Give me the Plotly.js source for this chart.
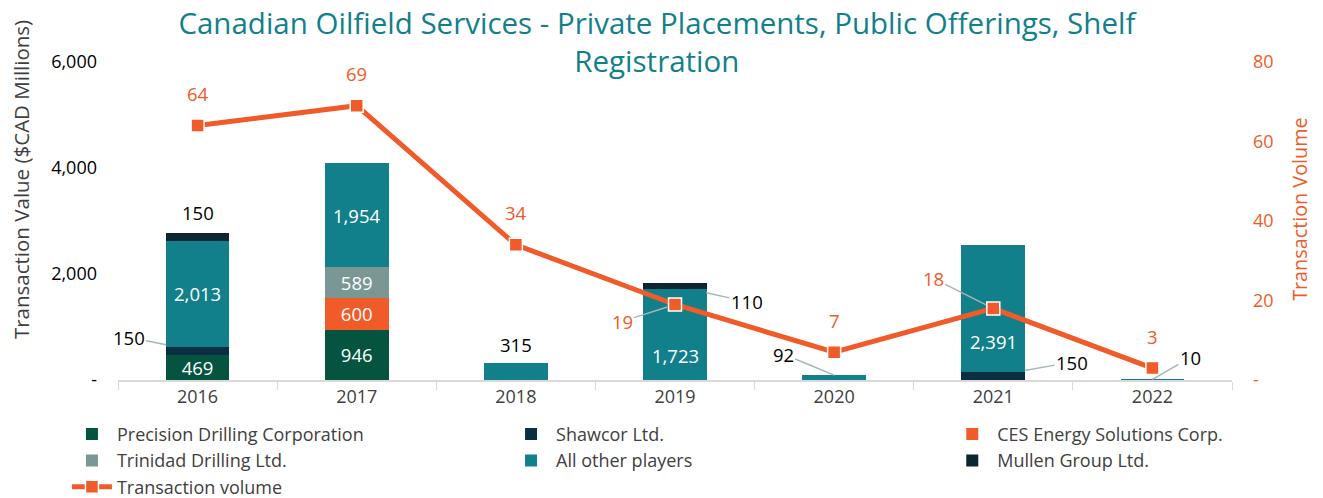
<!DOCTYPE html>
<html>
<head>
<meta charset="utf-8">
<script src="https://cdn.plot.ly/plotly-3.0.1.min.js"></script>
<style>
  html, body { margin: 0; padding: 0; background: #fff; }
  #chart { width: 1323px; height: 498px; }
</style>
</head>
<body>
<div id="chart"></div>
<script>
const years = ["2016", "2017", "2018", "2019", "2020", "2021", "2022"];
const precision = [469, 946, 0, 0, 0, 0, 0];
const shawcor = [150, 0, 0, 0, 0, 150, 0];
const ces = [0, 600, 0, 0, 0, 0, 0];
const trinidad = [0, 589, 0, 0, 0, 0, 0];
const allOther = [2013, 1954, 315, 1723, 92, 2391, 10];
const mullen = [150, 0, 0, 110, 0, 0, 0];
const volume = [64, 69, 34, 19, 7, 18, 3];

const FONT = "Open Sans, Noto Sans, sans-serif";
const ORANGE = "#F15A29";
const fmt = v => v.toLocaleString("en-US");

// labels that sit inside the bar segments (white)
function insideText(arr, skip) {
    return arr.map((v, i) => (v >= 400 && !(skip || []).includes(i)) ? fmt(v) : "");
}

function barTrace(name, values, color, legend, skip) {
    return {
        type: "bar",
        name,
        legend,
        x: years,
        y: values.map(v => v || null),
        marker: { color },
        text: insideText(values, skip),
        textposition: "inside",
        insidetextanchor: "middle",
        textangle: 0,
        constraintext: "none",
        textfont: { color: "#fff", size: 18.5, family: FONT },
        hoverinfo: "skip"
    };
}

function totals(i) {
    return precision[i] + shawcor[i] + ces[i] + trinidad[i] + allOther[i] + mullen[i];
}

function draw() {
    const traces = [
        barTrace("Precision Drilling Corporation", precision, "#04543F", "legend"),
        barTrace("Shawcor Ltd.", shawcor, "#0B2F42", "legend2"),
        barTrace("CES Energy Solutions Corp.", ces, ORANGE, "legend3"),
        barTrace("Trinidad Drilling Ltd.", trinidad, "#7A9695", "legend"),
        barTrace("All other players", allOther, "#12808A", "legend2", [3, 5]),
        barTrace("Mullen Group Ltd.", mullen, "#0E2430", "legend3"),
        {
            type: "scatter",
            mode: "lines+markers",
            name: "Transaction volume",
            legend: "legend",
            x: years,
            y: volume,
            yaxis: "y2",
            line: { color: ORANGE, width: 5 },
            marker: { symbol: "square", size: 13, color: ORANGE, line: { color: "#fff", width: 1.5 } },
            hoverinfo: "skip"
        }
    ];

    const black = { color: "#000", size: 18.5, family: FONT };
    const orange = { color: ORANGE, size: 18.5, family: FONT };
    const white = { color: "#fff", size: 18.5, family: FONT };
    const leader = { showarrow: true, arrowhead: 0, arrowwidth: 1.5, arrowcolor: "#A6B5B5" };

    // annotations use the category index on the x axis
    const annotations = [
        { x: 0, y: totals(0), text: fmt(mullen[0]), font: black, showarrow: false, yanchor: "bottom", yshift: 6 },
        { x: 2, y: totals(2), text: fmt(allOther[2]), font: black, showarrow: false, yanchor: "bottom", yshift: 4 },
        { x: 3, y: 470, text: fmt(allOther[3]), font: white, showarrow: false },
        { x: 5, y: 720, text: fmt(allOther[5]), font: white, showarrow: false },
        Object.assign({ x: 0, y: precision[0] + shawcor[0] / 2, text: fmt(shawcor[0]), font: black, ax: -69, ay: -14, standoff: 32 }, leader),
        Object.assign({ x: 3, y: allOther[3] + mullen[3] / 2, text: fmt(mullen[3]), font: black, ax: 72, ay: 16, standoff: 32 }, leader),
        Object.assign({ x: 4, y: allOther[4], text: fmt(allOther[4]), font: black, ax: -51, ay: -21, standoff: 0 }, leader),
        Object.assign({ x: 5, y: shawcor[5] / 2, text: fmt(shawcor[5]), font: black, ax: 79, ay: -14, standoff: 32 }, leader),
        Object.assign({ x: 6, y: allOther[6], text: fmt(allOther[6]), font: black, ax: 38, ay: -22, standoff: 0 }, leader),
        // axis titles
        { xref: "paper", yref: "paper", x: -0.087, y: 0.629, xanchor: "center", yanchor: "middle",
          text: "Transaction Value ($CAD Millions)", textangle: -90,
          showarrow: false, font: { size: 20.5, color: "#404040", family: FONT } },
        { xref: "paper", yref: "paper", x: 1.061, y: 0.538, xanchor: "center", yanchor: "middle",
          text: "Transaction Volume", textangle: -90,
          showarrow: false, font: { size: 19.8, color: ORANGE, family: FONT } }
    ];

    volume.forEach((v, i) => {
        if (i === 3) {
            annotations.push(Object.assign({ x: i, y: v, yref: "y2", text: String(v), font: orange, ax: -53, ay: 17, standoff: 8 }, leader));
        } else if (i === 5) {
            annotations.push(Object.assign({ x: i, y: v, yref: "y2", text: String(v), font: orange, ax: -60, ay: -30, standoff: 8 }, leader));
        } else {
            annotations.push({ x: i, y: v, yref: "y2", text: String(v), font: orange, showarrow: false, yshift: 32 });
        }
    });

    const legendBase = {
        orientation: "v",
        xref: "container",
        yref: "container",
        y: 0.165,
        xanchor: "left",
        yanchor: "top",
        traceorder: "normal",
        font: { size: 18, color: "#404040" },
        tracegroupgap: 0,
        itemwidth: 40,
        bgcolor: "rgba(0,0,0,0)"
    };

    const layout = {
        width: 1323,
        height: 498,
        barmode: "stack",
        bargap: 0.6,
        paper_bgcolor: "#fff",
        plot_bgcolor: "#fff",
        font: { family: FONT, size: 18, color: "#404040" },
        margin: { t: 62, r: 91, b: 118, l: 118, autoexpand: false },
        title: {
            text: "Canadian Oilfield Services - Private Placements, Public Offerings, Shelf<br>Registration",
            font: { size: 29.5, color: "#12808A", family: FONT },
            x: 0.4965,
            xanchor: "center",
            yref: "container",
            y: 0.932,
            yanchor: "top"
        },
        xaxis: {
            type: "category",
            range: [-0.5, 6.5],
            showline: true,
            linecolor: "#D9D9D9",
            linewidth: 1.5,
            ticks: "outside",
            tickson: "boundaries",
            ticklen: 8,
            tickcolor: "#D9D9D9",
            tickfont: { size: 18, color: "#404040" },
            showgrid: false
        },
        yaxis: {
            range: [0, 6000],
            tickvals: [0, 2000, 4000, 6000],
            ticktext: ["-", "2,000", "4,000", "6,000"],
            tickfont: { size: 18, color: "#000" },
            showgrid: false,
            zeroline: false,
            ticklabelstandoff: 20
        },
        yaxis2: {
            overlaying: "y",
            side: "right",
            range: [0, 80],
            tickvals: [0, 20, 40, 60, 80],
            ticktext: ["-", "20", "40", "60", "80"],
            tickfont: { size: 18, color: ORANGE },
            showgrid: false,
            zeroline: false,
            ticklabelstandoff: 20
        },
        legend: Object.assign({}, legendBase, { x: 0.0506 }),
        legend2: Object.assign({}, legendBase, { x: 0.3825 }),
        legend3: Object.assign({}, legendBase, { x: 0.716 }),
        annotations,
        showlegend: true
    };

    Plotly.newPlot("chart", traces, layout, { displayModeBar: false, staticPlot: true });
}

document.addEventListener("DOMContentLoaded", draw);
</script>
</body>
</html>
